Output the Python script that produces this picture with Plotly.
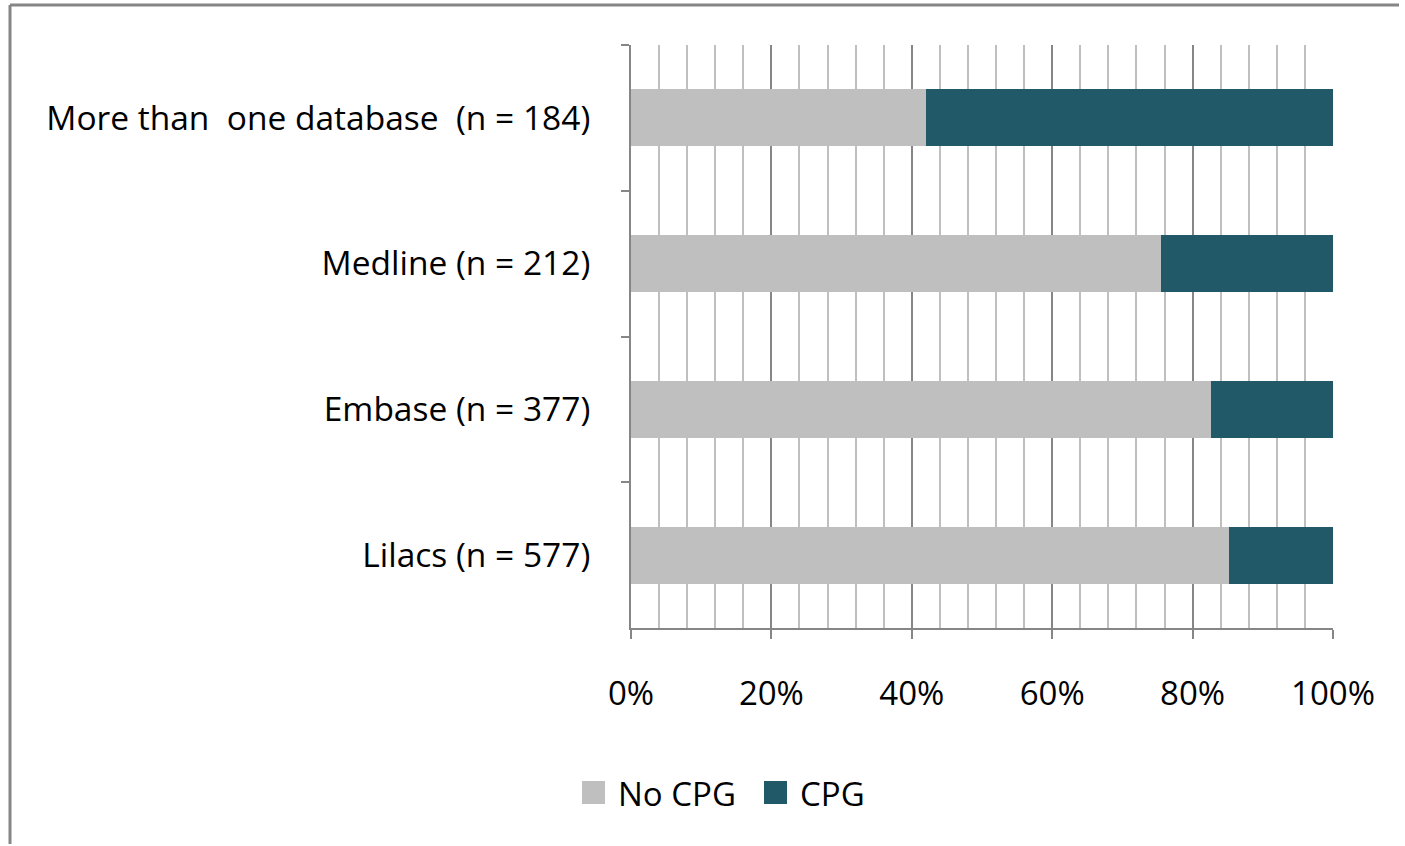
import plotly.graph_objects as go

categories = ["More than\u00a0\u00a0one database\u00a0\u00a0(n = 184)", "Medline (n = 212)", "Embase (n = 377)", "Lilacs (n = 577)"]
no_cpg = [42.0, 75.5, 82.6, 85.2]
cpg = [58.0, 24.5, 17.4, 14.8]
series_names = ["No CPG", "CPG"]
series_colors = ["#bfbfbf", "#215968"]
x_ticks = [0, 20, 40, 60, 80, 100]

FONT = "Open Sans"
fig = go.Figure()
for name, vals, col in zip(series_names, [no_cpg, cpg], series_colors):
    fig.add_trace(go.Bar(y=categories, x=vals, name=name, orientation="h",
                         marker=dict(color=col, line=dict(width=0)), showlegend=False))

fig.update_layout(
    width=1405, height=846, barmode="stack", bargap=0.61,
    paper_bgcolor="white", plot_bgcolor="white",
    margin=dict(l=631, r=1405 - 1333, t=45, b=846 - 628),
    font=dict(family=FONT, size=33, color="black"),
)
fig.update_xaxes(range=[0, 100], tickvals=x_ticks, ticktext=[f"{v}%" for v in x_ticks],
                 showgrid=True, gridcolor="#868686", gridwidth=2,
                 minor=dict(dtick=4, showgrid=True, gridcolor="#bfbfbf", gridwidth=2, ticks=""),
                 showline=True, linecolor="#868686", linewidth=2,
                 ticks="outside", ticklen=9, tickcolor="#868686", tickwidth=2,
                 ticklabelstandoff=26, zeroline=False)
fig.update_yaxes(autorange="reversed", showline=True, linecolor="#868686", linewidth=2,
                 ticks="outside", ticklen=8, tickcolor="#868686", tickwidth=2,
                 tickson="boundaries", ticklabelstandoff=32, showgrid=False,
                 tickfont=dict(family=FONT, size=33.5, color="black"))

# outer frame (pixel positions of reference -> paper coords): top and left edges only
W, H = 702, 583
def px_x(p): return (p - 631) / W
def px_y(p): return (628 - p) / H
frame = dict(color="#868686", width=3)
fig.add_shape(type="line", xref="paper", yref="paper",
              x0=px_x(10), x1=px_x(1399), y0=px_y(5), y1=px_y(5), line=frame, layer="below")
fig.add_shape(type="line", xref="paper", yref="paper",
              x0=px_x(10), x1=px_x(10), y0=px_y(5), y1=px_y(844), line=frame, layer="below")

# legend drawn manually
leg_items = [(582, 616), (764, 798)]
for (sx, tx), name, col in zip(leg_items, series_names, series_colors):
    fig.add_shape(type="rect", xref="paper", yref="paper",
                  x0=px_x(sx), x1=px_x(sx + 23), y0=px_y(804), y1=px_y(781),
                  fillcolor=col, line=dict(width=0))
    fig.add_annotation(xref="paper", yref="paper", x=px_x(tx), y=px_y(793),
                       xanchor="left", yanchor="middle", text=name, showarrow=False,
                       font=dict(family=FONT, size=33, color="black"))

fig.write_html("out.html", config={"displayModeBar": False},
               post_script="document.body.style.margin='0';")
